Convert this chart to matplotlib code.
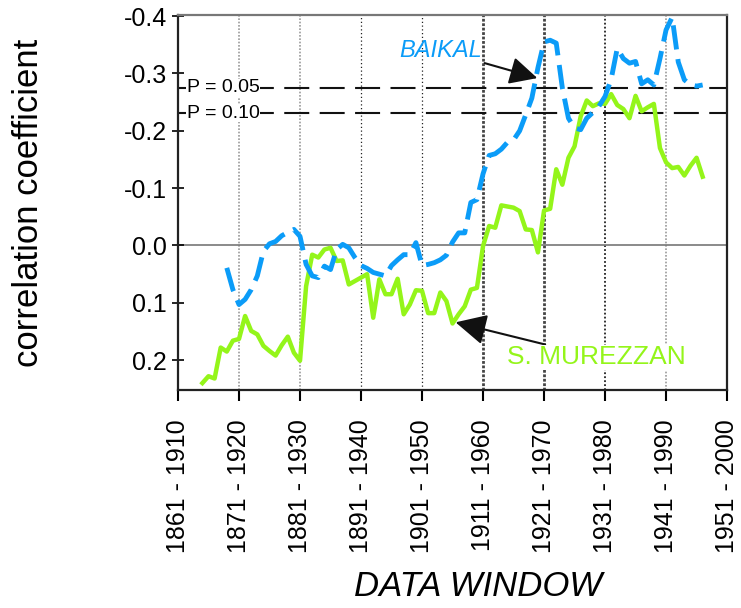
import matplotlib
matplotlib.use('Agg')
import matplotlib.pyplot as plt

plt.rcParams['font.family'] = ['Liberation Sans', 'DejaVu Sans']

# window end years (yearly steps)
murezzan_years = list(range(1914, 1997))
murezzan = [0.240, 0.228, 0.232, 0.178, 0.185, 0.166, 0.163, 0.123, 0.149, 0.155,
            0.175, 0.184, 0.192, 0.174, 0.159, 0.187, 0.201, 0.071, 0.016, 0.021,
            0.007, 0.004, 0.027, 0.026, 0.068, 0.062, 0.056, 0.050, 0.126, 0.059,
            0.085, 0.085, 0.058, 0.120, 0.103, 0.078, 0.079, 0.118, 0.118, 0.082,
            0.097, 0.136, 0.120, 0.106, 0.077, 0.074, 0.001, -0.034, -0.031, -0.070,
            -0.068, -0.066, -0.060, -0.028, -0.027, 0.012, -0.061, -0.064, -0.133, -0.106,
            -0.153, -0.173, -0.225, -0.253, -0.243, -0.248, -0.247, -0.264, -0.245, -0.238,
            -0.222, -0.261, -0.234, -0.241, -0.247, -0.170, -0.145, -0.135, -0.137, -0.122,
            -0.139, -0.153, -0.120]

baikal_years = list(range(1918, 1997))
baikal = [0.039, 0.077, 0.103, 0.094, 0.077, 0.053, 0.010, -0.003, -0.007, -0.017,
          -0.023, -0.028, -0.016, 0.033, 0.053, 0.056, 0.036, 0.042, 0.007, -0.002,
          0.004, 0.021, 0.035, 0.040, 0.047, 0.050, 0.053, 0.035, 0.025, 0.016,
          0.016, -0.005, 0.035, 0.033, 0.030, 0.025, 0.017, -0.006, -0.022, -0.022,
          -0.075, -0.080, -0.125, -0.157, -0.160, -0.168, -0.180, -0.184, -0.200, -0.228,
          -0.257, -0.310, -0.355, -0.358, -0.353, -0.275, -0.222, -0.205, -0.202, -0.222,
          -0.232, -0.243, -0.260, -0.290, -0.344, -0.326, -0.318, -0.321, -0.282, -0.289,
          -0.280, -0.326, -0.376, -0.398, -0.320, -0.289, -0.280, -0.278, -0.280]

# significance levels
p05 = -0.275
p10 = -0.231

decades = list(range(1910, 2001, 10))
decade_labels = [f'{d - 49} - {d}' for d in decades]
y_ticks = [-0.4, -0.3, -0.2, -0.1, 0.0, 0.1, 0.2]
y_labels = ['-0.4', '-0.3', '-0.2', '-0.1', '0.0', '0.1', '0.2']

blue = '#0b9cf8'
green = '#94f51a'

fig = plt.figure(figsize=(7.41, 6.08), dpi=100)
ax = fig.add_axes([0.2402, 0.3586, 0.741, 0.6167])

# vertical decade grid lines, styled like the original
grid_style = {1920: ('#999999', 1.2, (0, (1, 1))),
              1930: ('#999999', 1.2, (0, (1, 1))),
              1940: ('#222222', 0.9, (0, (1, 2))),
              1950: ('#222222', 0.9, (0, (1, 2))),
              1960: ('#444444', 2.0, (0, (1, 0.6))),
              1970: ('#444444', 2.0, (0, (1, 0.6))),
              1980: ('#222222', 1.3, (0, (1, 1.2))),
              1990: ('#999999', 1.2, (0, (1, 1)))}
for d, (c, lw, ls) in grid_style.items():
    ax.axvline(d, color=c, lw=lw, linestyle=ls, zorder=1)

ax.axhline(0.0, color='#777777', lw=1.2, zorder=1)
ax.axhline(p05, color='#111111', lw=1.5, dashes=(12, 5), zorder=2)
ax.axhline(p10, color='#111111', lw=1.5, dashes=(12, 5), zorder=2)
ax.text(1911.4, p05, 'P = 0.05', fontsize=14, va='center', ha='left',
        bbox=dict(facecolor='white', edgecolor='none', pad=0.5), zorder=3)
ax.text(1911.4, p10, 'P = 0.10', fontsize=14, va='center', ha='left',
        bbox=dict(facecolor='white', edgecolor='none', pad=0.5), zorder=3)

ax.plot(murezzan_years, murezzan, color=green, lw=3.2, zorder=4)
ax.plot(baikal_years, baikal, color=blue, lw=3.5, dashes=(5, 2), zorder=5)

ax.annotate('BAIKAL', xy=(1968.9, -0.292), xytext=(1959.8, -0.34),
            fontsize=17, style='italic', color=blue, ha='right', va='center',
            arrowprops=dict(arrowstyle='-|>,head_length=1.0,head_width=0.5',
                            color='#111111', lw=1.5, shrinkA=0, shrinkB=0), zorder=6)
ax.annotate('S. MUREZZAN', xy=(1955.5, 0.134), xytext=(1964.0, 0.195),
            fontsize=19, color=green, ha='left', va='center',
            bbox=dict(facecolor='white', edgecolor='none', pad=0.5),
            arrowprops=dict(arrowstyle='-|>,head_length=1.0,head_width=0.5',
                            color='#111111', lw=1.5, shrinkA=0, shrinkB=0), zorder=6)

ax.set_xlim(1910, 2000)
ax.set_ylim(0.252, -0.402)
ax.set_xticks(decades)
ax.set_xticklabels(decade_labels, rotation=90, fontsize=18)
ax.set_yticks(y_ticks)
ax.set_yticklabels(y_labels, fontsize=18)
ax.tick_params(axis='x', direction='out', length=8, width=1.5, pad=13)
ax.tick_params(axis='y', direction='inout', length=8, width=1.2, pad=4)

for side in ['left', 'bottom', 'right']:
    ax.spines[side].set_linewidth(1.6)
    ax.spines[side].set_color('#222222')
ax.spines['top'].set_linewidth(1.6)
ax.spines['top'].set_color('#777777')

ax.set_ylabel('correlation coefficient', fontsize=25)
ax.yaxis.set_label_coords(-0.242, 0.5)
fig.text(478 / 741, 1 - 587 / 608, 'DATA WINDOW', fontsize=25, style='italic',
         ha='center', va='center')

fig.savefig('out.png', dpi=100)
